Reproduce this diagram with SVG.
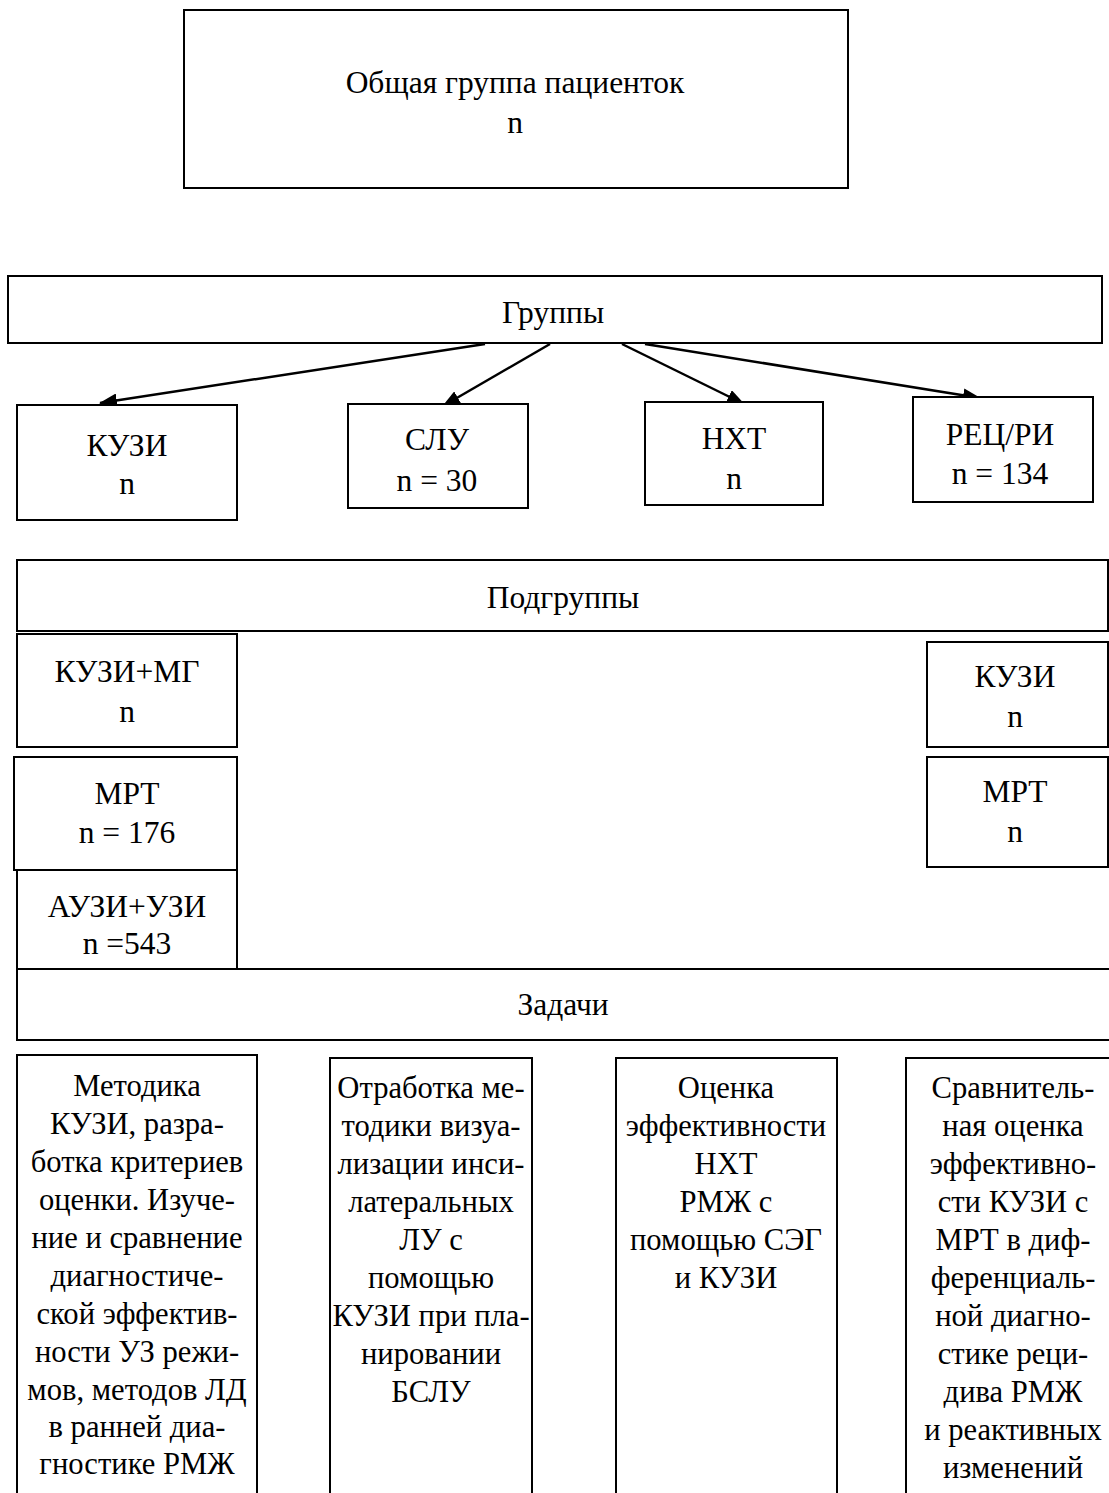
<svg xmlns="http://www.w3.org/2000/svg" width="1109" height="1493" viewBox="0 0 1109 1493">
<style>
.b{fill:#fff;stroke:#000;stroke-width:2}
.t{font-family:"Liberation Serif","Times New Roman",serif;font-size:31.5px;fill:#000;text-anchor:middle}
.k{font-family:"Liberation Serif","Times New Roman",serif;font-size:30.6px;fill:#000;text-anchor:middle}
.c{stroke:#000;stroke-width:2.5;fill:none}
</style>
<defs>
<marker id="ah" viewBox="0 0 18 14" refX="17" refY="7" markerWidth="18" markerHeight="14" markerUnits="userSpaceOnUse" orient="auto">
<path d="M0,0 L18,7 L0,14 z" fill="#000"/>
</marker>
</defs>
<rect width="1109" height="1493" fill="#fff"/>
<g id="general"><rect class="b" x="184" y="10" width="664" height="178"/>
<text class="t" x="515" y="93">Общая группа пациенток</text><text class="t" x="515" y="133">n</text></g>
<g id="groups"><rect class="b" x="8" y="276" width="1094" height="67"/>
<text class="t" x="553" y="323">Группы</text></g>
<g id="connectors">
<line class="c" x1="485" y1="344" x2="100" y2="403" marker-end="url(#ah)"/>
<line class="c" x1="550" y1="344" x2="443" y2="406" marker-end="url(#ah)"/>
<line class="c" x1="622" y1="344" x2="744" y2="404" marker-end="url(#ah)"/>
<line class="c" x1="645" y1="344" x2="980" y2="398" marker-end="url(#ah)"/>
</g>
<g id="g-kuzi"><rect class="b" x="17" y="405" width="220" height="115"/>
<text class="t" x="127" y="456">КУЗИ</text><text class="t" x="127" y="494">n</text></g>
<g id="g-slu"><rect class="b" x="348" y="404" width="180" height="104"/>
<text class="t" x="437" y="450">СЛУ</text><text class="t" x="437" y="491">n = 30</text></g>
<g id="g-nht"><rect class="b" x="645" y="402" width="178" height="103"/>
<text class="t" x="734" y="449">НХТ</text><text class="t" x="734" y="489">n</text></g>
<g id="g-rec"><rect class="b" x="913" y="397" width="180" height="105"/>
<text class="t" x="1000" y="445">РЕЦ/РИ</text><text class="t" x="1000" y="484">n = 134</text></g>
<g id="subgroups"><rect class="b" x="17" y="560" width="1091" height="71"/>
<text class="t" x="563" y="608">Подгруппы</text></g>
<g id="s-kuzimg"><rect class="b" x="17" y="634" width="220" height="113"/>
<text class="t" x="127" y="682">КУЗИ+МГ</text><text class="t" x="127" y="722">n</text></g>
<g id="s-mrt"><rect class="b" x="14" y="757" width="223" height="113"/>
<text class="t" x="127" y="804">МРТ</text><text class="t" x="127" y="843">n = 176</text></g>
<g id="s-auzi"><rect class="b" x="17" y="870" width="220" height="99"/>
<text class="t" x="127" y="917">АУЗИ+УЗИ</text><text class="t" x="127" y="954">n =543</text></g>
<g id="s-kuzi-r"><rect class="b" x="927" y="642" width="181" height="105"/>
<text class="t" x="1015" y="687">КУЗИ</text><text class="t" x="1015" y="727">n</text></g>
<g id="s-mrt-r"><rect class="b" x="927" y="757" width="181" height="110"/>
<text class="t" x="1015" y="802">МРТ</text><text class="t" x="1015" y="842">n</text></g>
<g id="tasks"><rect class="b" x="17" y="969" width="1100" height="71"/>
<text class="t" x="563" y="1015">Задачи</text></g>
<g id="task1"><rect class="b" x="17" y="1055" width="240" height="450"/>
<text class="k" x="137" y="1096">Методика</text>
<text class="k" x="137" y="1134">КУЗИ, разра-</text>
<text class="k" x="137" y="1172">ботка критериев</text>
<text class="k" x="137" y="1210">оценки. Изуче-</text>
<text class="k" x="137" y="1248">ние и сравнение</text>
<text class="k" x="137" y="1286">диагностиче-</text>
<text class="k" x="137" y="1324">ской эффектив-</text>
<text class="k" x="137" y="1362">ности УЗ режи-</text>
<text class="k" x="137" y="1400">мов, методов ЛД</text>
<text class="k" x="137" y="1437">в ранней диа-</text>
<text class="k" x="137" y="1474">гностике РМЖ</text></g>
<g id="task2"><rect class="b" x="330" y="1058" width="202" height="450"/>
<text class="k" x="431" y="1098">Отработка ме-</text>
<text class="k" x="431" y="1136">тодики визуа-</text>
<text class="k" x="431" y="1174">лизации инси-</text>
<text class="k" x="431" y="1212">латеральных</text>
<text class="k" x="431" y="1250">ЛУ с</text>
<text class="k" x="431" y="1288">помощью</text>
<text class="k" x="431" y="1326">КУЗИ при пла-</text>
<text class="k" x="431" y="1364">нировании</text>
<text class="k" x="431" y="1402">БСЛУ</text></g>
<g id="task3"><rect class="b" x="616" y="1058" width="221" height="450"/>
<text class="k" x="726" y="1098">Оценка</text>
<text class="k" x="726" y="1136">эффективности</text>
<text class="k" x="726" y="1174">НХТ</text>
<text class="k" x="726" y="1212">РМЖ с</text>
<text class="k" x="726" y="1250">помощью СЭГ</text>
<text class="k" x="726" y="1288">и КУЗИ</text></g>
<g id="task4"><rect class="b" x="906" y="1058" width="220" height="450"/>
<text class="k" x="1013" y="1098">Сравнитель-</text>
<text class="k" x="1013" y="1136">ная оценка</text>
<text class="k" x="1013" y="1174">эффективно-</text>
<text class="k" x="1013" y="1212">сти КУЗИ с</text>
<text class="k" x="1013" y="1250">МРТ в диф-</text>
<text class="k" x="1013" y="1288">ференциаль-</text>
<text class="k" x="1013" y="1326">ной диагно-</text>
<text class="k" x="1013" y="1364">стике реци-</text>
<text class="k" x="1013" y="1402">дива РМЖ</text>
<text class="k" x="1013" y="1440">и реактивных</text>
<text class="k" x="1013" y="1478">изменений</text></g>
</svg>
